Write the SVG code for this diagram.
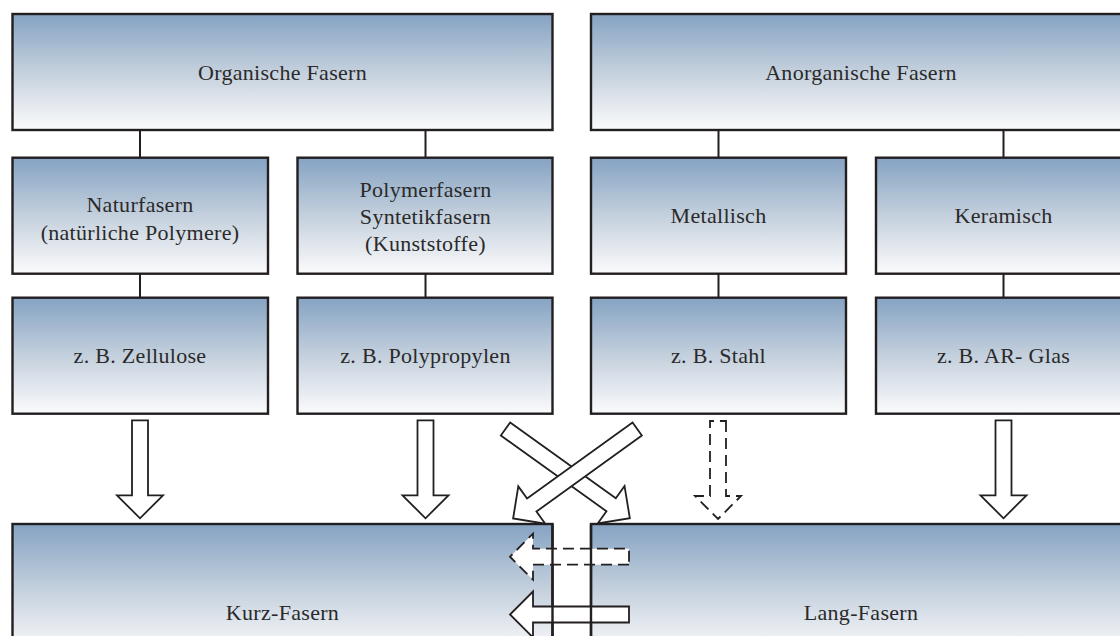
<svg xmlns="http://www.w3.org/2000/svg" width="1120" height="636" viewBox="0 0 1120 636">
<defs>
<linearGradient id="g" x1="0" y1="0" x2="0" y2="1">
<stop offset="0" stop-color="#85a3c3"/>
<stop offset="0.5" stop-color="#c4d0dd"/>
<stop offset="1" stop-color="#fbfbfc"/>
</linearGradient>
<path id="arr98" d="M0,-8 H75 V-23 L98,0 L75,23 V8 H0 Z"/>
<path id="arr153" d="M0,-8 H130 V-23 L153,0 L130,23 V8 H0 Z"/>
<path id="arr119" d="M0,-8 H96 V-23 L119,0 L96,23 V8 H0 Z"/>
</defs>
<style>
.box{fill:url(#g);stroke:#231f20;stroke-width:2.4}
.edge{fill:none;stroke:#231f20;stroke-width:2.4}
.ln{stroke:#231f20;stroke-width:2;fill:none}
.ar{fill:#fff;stroke:#231f20;stroke-width:1.8;stroke-linejoin:miter}
.da{stroke-dasharray:11,6}
text{font-family:"Liberation Serif","Times New Roman",serif;font-size:22px;letter-spacing:0.3px;fill:#2a2a2a;text-anchor:middle}
</style>
<rect width="1120" height="636" fill="#fff"/>
<g id="organische"><rect class="box" x="12.5" y="14" width="540" height="116"/><text x="282.5" y="80">Organische Fasern</text></g>
<g id="anorganische"><rect class="box" x="591" y="14" width="545" height="116"/><text x="861" y="80">Anorganische Fasern</text></g>
<g id="naturfasern"><rect class="box" x="12.5" y="157.7" width="255.5" height="116"/><text x="140" y="212">Naturfasern</text><text x="140" y="239.5">(natürliche Polymere)</text></g>
<g id="polymerfasern"><rect class="box" x="297.5" y="157.7" width="255" height="116"/><text x="425.5" y="197">Polymerfasern</text><text x="425.5" y="224">Syntetikfasern</text><text x="425.5" y="251">(Kunststoffe)</text></g>
<g id="metallisch"><rect class="box" x="591" y="157.7" width="255" height="116"/><text x="718.5" y="223">Metallisch</text></g>
<g id="keramisch"><rect class="box" x="876" y="157.7" width="260" height="116"/><text x="1003.5" y="223">Keramisch</text></g>
<g id="zellulose"><rect class="box" x="12.5" y="297.7" width="255.5" height="116"/><text x="140" y="363">z. B. Zellulose</text></g>
<g id="polypropylen"><rect class="box" x="297.5" y="297.7" width="255" height="116"/><text x="425.5" y="363">z. B. Polypropylen</text></g>
<g id="stahl"><rect class="box" x="591" y="297.7" width="255" height="116"/><text x="718.5" y="363">z. B. Stahl</text></g>
<g id="arglas"><rect class="box" x="876" y="297.7" width="260" height="116"/><text x="1003.5" y="363">z. B. AR- Glas</text></g>
<g id="kurzfasern"><rect class="box" x="12.5" y="524" width="540" height="130"/><text x="282.5" y="620">Kurz-Fasern</text></g>
<g id="langfasern"><rect class="box" x="591" y="524" width="545" height="130"/><text x="861" y="620">Lang-Fasern</text></g>
<g id="connectors">
<path class="ln" d="M140,130V157.7M425.5,130V157.7M718.5,130V157.7M1003.5,130V157.7M140,273.7V297.7M425.5,273.7V297.7M718.5,273.7V297.7M1003.5,273.7V297.7"/>
<use href="#arr98" class="ar" transform="translate(140,420.3) rotate(90)"/>
<use href="#arr98" class="ar" transform="translate(425.5,420.3) rotate(90)"/>
<use href="#arr98" class="ar da" transform="translate(718,421) rotate(90)"/>
<use href="#arr98" class="ar" transform="translate(1003.5,420.3) rotate(90)"/>
<use href="#arr153" class="ar" transform="translate(505.5,429) rotate(35.65)"/>
<use href="#arr153" class="ar" transform="translate(637.2,429) rotate(144.2)"/>
<use href="#arr119" class="ar da" transform="translate(629,556.7) rotate(180)"/>
<use href="#arr119" class="ar" transform="translate(629,614.5) rotate(180)"/>
<path class="edge" d="M552.5,524V636M591,524V636"/>
</g>
</svg>
